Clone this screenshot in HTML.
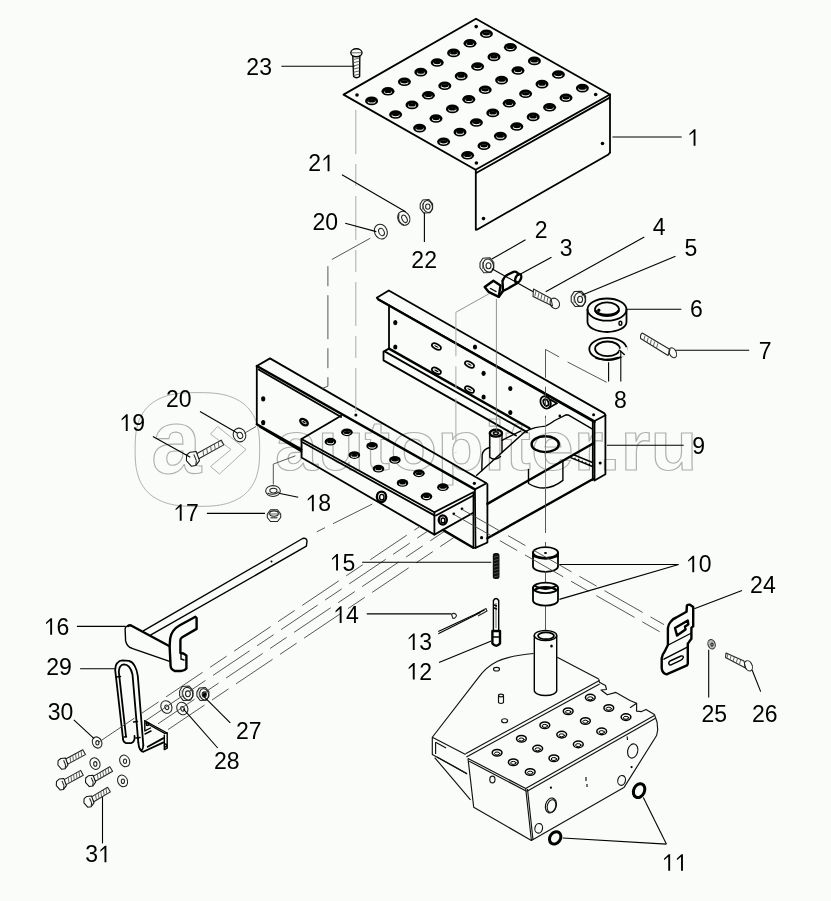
<!DOCTYPE html>
<html><head><meta charset="utf-8"><title>diagram</title><style>
*{margin:0;padding:0}
html,body{width:831px;height:901px;background:#fafcf9;overflow:hidden}
svg{display:block}
.k{fill:none;stroke:#000;stroke-width:1.8;stroke-linejoin:round;stroke-linecap:round}
.th{stroke-width:1.4}
.thk{stroke-width:2.4}
.f{fill:#000;stroke:none}
.w{fill:#fafcf9;stroke:none}
.g{fill:none;stroke:#222;stroke-width:1.05;stroke-linejoin:round}
.gl{stroke:#555;stroke-width:0.9}
.t{stroke:#000;stroke-width:1.1}
.b{fill:none;stroke:#111;stroke-width:1.15;stroke-linejoin:round}
.t2{fill:none;stroke:#777;stroke-width:0.8}
.d2{fill:none;stroke:#aaa;stroke-width:1;stroke-dasharray:44 10 22 10}
.d{fill:none;stroke:#444;stroke-width:0.9;stroke-dasharray:44 9 20 9}
.wm{fill:none;stroke:#b0b0b0;stroke-width:1}
.wmt{fill:none;stroke:#b0b0b0;stroke-width:1.1;font-family:"Liberation Sans",sans-serif;font-weight:bold}
text{font-family:"Liberation Sans",sans-serif;font-size:23px;fill:#000;text-anchor:middle}
text.wmt{text-anchor:start}
</style></head>
<body><svg width="831" height="901" viewBox="0 0 831 901">
<rect width="831" height="901" fill="#fafcf9"/>
<g class="wm">
<polygon points="259.7,449.5 259.6,455.9 259.4,460.2 259.1,463.9 258.7,467.3 258.1,470.4 257.4,473.3 256.6,476.1 255.7,478.7 254.6,481.2 253.4,483.6 252.1,485.8 250.6,487.9 249.1,489.9 247.4,491.8 245.6,493.5 243.7,495.2 241.6,496.7 239.4,498.1 237.1,499.4 234.7,500.6 232.1,501.7 229.4,502.7 226.5,503.6 223.5,504.3 220.3,505.0 216.9,505.5 213.2,505.9 209.1,506.2 204.4,506.3 197.4,506.4 190.4,506.3 185.7,506.2 181.6,505.9 177.9,505.5 174.5,505.0 171.3,504.3 168.3,503.6 165.4,502.7 162.7,501.7 160.1,500.6 157.7,499.4 155.4,498.1 153.2,496.7 151.1,495.2 149.2,493.5 147.4,491.8 145.7,489.9 144.2,487.9 142.7,485.8 141.4,483.6 140.2,481.2 139.1,478.7 138.2,476.1 137.4,473.3 136.7,470.4 136.1,467.3 135.7,463.9 135.4,460.2 135.2,455.9 135.1,449.5 135.2,443.1 135.4,438.8 135.7,435.1 136.1,431.7 136.7,428.6 137.4,425.7 138.2,422.9 139.1,420.3 140.2,417.8 141.4,415.4 142.7,413.2 144.2,411.1 145.7,409.1 147.4,407.2 149.2,405.5 151.1,403.8 153.2,402.3 155.4,400.9 157.7,399.6 160.1,398.4 162.7,397.3 165.4,396.3 168.3,395.4 171.3,394.7 174.5,394.0 177.9,393.5 181.6,393.1 185.7,392.8 190.4,392.7 197.4,392.6 204.4,392.7 209.1,392.8 213.2,393.1 216.9,393.5 220.3,394.0 223.5,394.7 226.5,395.4 229.4,396.3 232.1,397.3 234.7,398.4 237.1,399.6 239.4,400.9 241.6,402.3 243.7,403.8 245.6,405.5 247.4,407.2 249.1,409.1 250.6,411.1 252.1,413.2 253.4,415.4 254.6,417.8 255.7,420.3 256.6,422.9 257.4,425.7 258.1,428.6 258.7,431.7 259.1,435.1 259.4,438.8 259.6,443.1" class="wm"/>
<text x="151.3" y="473.4" class="wmt" style="font-size:90px">a</text>
<polygon points="217.6,426.5 246.0,449.5 219.5,474.0 210.5,466.5 231.0,449.5 210.5,434.0" class="wm"/>
<text transform="translate(275,469.8) scale(1.097,1)" x="0" y="0" class="wmt" style="font-size:70px">autopiter.ru</text>
</g>
<polygon points="343.5,94.6 476.0,18.7 610.0,94.5 475.6,169.8" class="k"/>
<line x1="476.2" y1="173.0" x2="609.8" y2="97.6" class="k"/>
<line x1="475.8" y1="170.0" x2="475.8" y2="229.5" class="k"/>
<line x1="610.0" y1="94.5" x2="610.0" y2="152.5" class="k"/>
<polyline points="610.0,152.5 608.0,154.8 477.3,229.5 475.8,229.5" class="k"/>
<circle cx="476.2" cy="26.6" r="1.8" class="f"/>
<circle cx="357.0" cy="95.0" r="1.8" class="f"/>
<circle cx="595.7" cy="94.5" r="1.8" class="f"/>
<circle cx="476.4" cy="163.0" r="1.8" class="f"/>
<circle cx="483.5" cy="218.6" r="1.8" class="f"/>
<circle cx="602.5" cy="143.5" r="1.8" class="f"/>
<ellipse cx="486.4" cy="33.7" rx="6.5" ry="4.3" class="f"/>
<ellipse cx="486.4" cy="34.5" rx="4.0" ry="1.9" class="w"/>
<ellipse cx="486.4" cy="33.8" rx="3.6" ry="1.6" class="f"/>
<ellipse cx="470.0" cy="43.3" rx="6.5" ry="4.3" class="f"/>
<ellipse cx="470.0" cy="44.1" rx="4.0" ry="1.9" class="w"/>
<ellipse cx="470.0" cy="43.4" rx="3.6" ry="1.6" class="f"/>
<ellipse cx="453.6" cy="52.9" rx="6.5" ry="4.3" class="f"/>
<ellipse cx="453.6" cy="53.7" rx="4.0" ry="1.9" class="w"/>
<ellipse cx="453.6" cy="53.0" rx="3.6" ry="1.6" class="f"/>
<ellipse cx="437.2" cy="62.5" rx="6.5" ry="4.3" class="f"/>
<ellipse cx="437.2" cy="63.3" rx="4.0" ry="1.9" class="w"/>
<ellipse cx="437.2" cy="62.6" rx="3.6" ry="1.6" class="f"/>
<ellipse cx="420.8" cy="72.1" rx="6.5" ry="4.3" class="f"/>
<ellipse cx="420.8" cy="72.9" rx="4.0" ry="1.9" class="w"/>
<ellipse cx="420.8" cy="72.2" rx="3.6" ry="1.6" class="f"/>
<ellipse cx="404.4" cy="81.7" rx="6.5" ry="4.3" class="f"/>
<ellipse cx="404.4" cy="82.5" rx="4.0" ry="1.9" class="w"/>
<ellipse cx="404.4" cy="81.8" rx="3.6" ry="1.6" class="f"/>
<ellipse cx="388.0" cy="91.3" rx="6.5" ry="4.3" class="f"/>
<ellipse cx="388.0" cy="92.1" rx="4.0" ry="1.9" class="w"/>
<ellipse cx="388.0" cy="91.4" rx="3.6" ry="1.6" class="f"/>
<ellipse cx="371.6" cy="100.9" rx="6.5" ry="4.3" class="f"/>
<ellipse cx="371.6" cy="101.7" rx="4.0" ry="1.9" class="w"/>
<ellipse cx="371.6" cy="101.0" rx="3.6" ry="1.6" class="f"/>
<ellipse cx="510.4" cy="47.3" rx="6.5" ry="4.3" class="f"/>
<ellipse cx="510.4" cy="48.1" rx="4.0" ry="1.9" class="w"/>
<ellipse cx="510.4" cy="47.4" rx="3.6" ry="1.6" class="f"/>
<ellipse cx="494.0" cy="56.9" rx="6.5" ry="4.3" class="f"/>
<ellipse cx="494.0" cy="57.7" rx="4.0" ry="1.9" class="w"/>
<ellipse cx="494.0" cy="57.0" rx="3.6" ry="1.6" class="f"/>
<ellipse cx="477.6" cy="66.5" rx="6.5" ry="4.3" class="f"/>
<ellipse cx="477.6" cy="67.3" rx="4.0" ry="1.9" class="w"/>
<ellipse cx="477.6" cy="66.6" rx="3.6" ry="1.6" class="f"/>
<ellipse cx="461.2" cy="76.1" rx="6.5" ry="4.3" class="f"/>
<ellipse cx="461.2" cy="76.9" rx="4.0" ry="1.9" class="w"/>
<ellipse cx="461.2" cy="76.2" rx="3.6" ry="1.6" class="f"/>
<ellipse cx="444.8" cy="85.7" rx="6.5" ry="4.3" class="f"/>
<ellipse cx="444.8" cy="86.5" rx="4.0" ry="1.9" class="w"/>
<ellipse cx="444.8" cy="85.8" rx="3.6" ry="1.6" class="f"/>
<ellipse cx="428.4" cy="95.3" rx="6.5" ry="4.3" class="f"/>
<ellipse cx="428.4" cy="96.1" rx="4.0" ry="1.9" class="w"/>
<ellipse cx="428.4" cy="95.4" rx="3.6" ry="1.6" class="f"/>
<ellipse cx="412.0" cy="104.9" rx="6.5" ry="4.3" class="f"/>
<ellipse cx="412.0" cy="105.7" rx="4.0" ry="1.9" class="w"/>
<ellipse cx="412.0" cy="105.0" rx="3.6" ry="1.6" class="f"/>
<ellipse cx="395.6" cy="114.5" rx="6.5" ry="4.3" class="f"/>
<ellipse cx="395.6" cy="115.3" rx="4.0" ry="1.9" class="w"/>
<ellipse cx="395.6" cy="114.6" rx="3.6" ry="1.6" class="f"/>
<ellipse cx="534.4" cy="60.9" rx="6.5" ry="4.3" class="f"/>
<ellipse cx="534.4" cy="61.7" rx="4.0" ry="1.9" class="w"/>
<ellipse cx="534.4" cy="61.0" rx="3.6" ry="1.6" class="f"/>
<ellipse cx="518.0" cy="70.5" rx="6.5" ry="4.3" class="f"/>
<ellipse cx="518.0" cy="71.3" rx="4.0" ry="1.9" class="w"/>
<ellipse cx="518.0" cy="70.6" rx="3.6" ry="1.6" class="f"/>
<ellipse cx="501.6" cy="80.1" rx="6.5" ry="4.3" class="f"/>
<ellipse cx="501.6" cy="80.9" rx="4.0" ry="1.9" class="w"/>
<ellipse cx="501.6" cy="80.2" rx="3.6" ry="1.6" class="f"/>
<ellipse cx="485.2" cy="89.7" rx="6.5" ry="4.3" class="f"/>
<ellipse cx="485.2" cy="90.5" rx="4.0" ry="1.9" class="w"/>
<ellipse cx="485.2" cy="89.8" rx="3.6" ry="1.6" class="f"/>
<ellipse cx="468.8" cy="99.3" rx="6.5" ry="4.3" class="f"/>
<ellipse cx="468.8" cy="100.1" rx="4.0" ry="1.9" class="w"/>
<ellipse cx="468.8" cy="99.4" rx="3.6" ry="1.6" class="f"/>
<ellipse cx="452.4" cy="108.9" rx="6.5" ry="4.3" class="f"/>
<ellipse cx="452.4" cy="109.7" rx="4.0" ry="1.9" class="w"/>
<ellipse cx="452.4" cy="109.0" rx="3.6" ry="1.6" class="f"/>
<ellipse cx="436.0" cy="118.5" rx="6.5" ry="4.3" class="f"/>
<ellipse cx="436.0" cy="119.3" rx="4.0" ry="1.9" class="w"/>
<ellipse cx="436.0" cy="118.6" rx="3.6" ry="1.6" class="f"/>
<ellipse cx="419.6" cy="128.1" rx="6.5" ry="4.3" class="f"/>
<ellipse cx="419.6" cy="128.9" rx="4.0" ry="1.9" class="w"/>
<ellipse cx="419.6" cy="128.2" rx="3.6" ry="1.6" class="f"/>
<ellipse cx="558.4" cy="74.5" rx="6.5" ry="4.3" class="f"/>
<ellipse cx="558.4" cy="75.3" rx="4.0" ry="1.9" class="w"/>
<ellipse cx="558.4" cy="74.6" rx="3.6" ry="1.6" class="f"/>
<ellipse cx="542.0" cy="84.1" rx="6.5" ry="4.3" class="f"/>
<ellipse cx="542.0" cy="84.9" rx="4.0" ry="1.9" class="w"/>
<ellipse cx="542.0" cy="84.2" rx="3.6" ry="1.6" class="f"/>
<ellipse cx="525.6" cy="93.7" rx="6.5" ry="4.3" class="f"/>
<ellipse cx="525.6" cy="94.5" rx="4.0" ry="1.9" class="w"/>
<ellipse cx="525.6" cy="93.8" rx="3.6" ry="1.6" class="f"/>
<ellipse cx="509.2" cy="103.3" rx="6.5" ry="4.3" class="f"/>
<ellipse cx="509.2" cy="104.1" rx="4.0" ry="1.9" class="w"/>
<ellipse cx="509.2" cy="103.4" rx="3.6" ry="1.6" class="f"/>
<ellipse cx="492.8" cy="112.9" rx="6.5" ry="4.3" class="f"/>
<ellipse cx="492.8" cy="113.7" rx="4.0" ry="1.9" class="w"/>
<ellipse cx="492.8" cy="113.0" rx="3.6" ry="1.6" class="f"/>
<ellipse cx="476.4" cy="122.5" rx="6.5" ry="4.3" class="f"/>
<ellipse cx="476.4" cy="123.3" rx="4.0" ry="1.9" class="w"/>
<ellipse cx="476.4" cy="122.6" rx="3.6" ry="1.6" class="f"/>
<ellipse cx="460.0" cy="132.1" rx="6.5" ry="4.3" class="f"/>
<ellipse cx="460.0" cy="132.9" rx="4.0" ry="1.9" class="w"/>
<ellipse cx="460.0" cy="132.2" rx="3.6" ry="1.6" class="f"/>
<ellipse cx="443.6" cy="141.7" rx="6.5" ry="4.3" class="f"/>
<ellipse cx="443.6" cy="142.5" rx="4.0" ry="1.9" class="w"/>
<ellipse cx="443.6" cy="141.8" rx="3.6" ry="1.6" class="f"/>
<ellipse cx="582.4" cy="88.1" rx="6.5" ry="4.3" class="f"/>
<ellipse cx="582.4" cy="88.9" rx="4.0" ry="1.9" class="w"/>
<ellipse cx="582.4" cy="88.2" rx="3.6" ry="1.6" class="f"/>
<ellipse cx="566.0" cy="97.7" rx="6.5" ry="4.3" class="f"/>
<ellipse cx="566.0" cy="98.5" rx="4.0" ry="1.9" class="w"/>
<ellipse cx="566.0" cy="97.8" rx="3.6" ry="1.6" class="f"/>
<ellipse cx="549.6" cy="107.3" rx="6.5" ry="4.3" class="f"/>
<ellipse cx="549.6" cy="108.1" rx="4.0" ry="1.9" class="w"/>
<ellipse cx="549.6" cy="107.4" rx="3.6" ry="1.6" class="f"/>
<ellipse cx="533.2" cy="116.9" rx="6.5" ry="4.3" class="f"/>
<ellipse cx="533.2" cy="117.7" rx="4.0" ry="1.9" class="w"/>
<ellipse cx="533.2" cy="117.0" rx="3.6" ry="1.6" class="f"/>
<ellipse cx="516.8" cy="126.5" rx="6.5" ry="4.3" class="f"/>
<ellipse cx="516.8" cy="127.3" rx="4.0" ry="1.9" class="w"/>
<ellipse cx="516.8" cy="126.6" rx="3.6" ry="1.6" class="f"/>
<ellipse cx="500.4" cy="136.1" rx="6.5" ry="4.3" class="f"/>
<ellipse cx="500.4" cy="136.9" rx="4.0" ry="1.9" class="w"/>
<ellipse cx="500.4" cy="136.2" rx="3.6" ry="1.6" class="f"/>
<ellipse cx="484.0" cy="145.7" rx="6.5" ry="4.3" class="f"/>
<ellipse cx="484.0" cy="146.5" rx="4.0" ry="1.9" class="w"/>
<ellipse cx="484.0" cy="145.8" rx="3.6" ry="1.6" class="f"/>
<ellipse cx="467.6" cy="155.3" rx="6.5" ry="4.3" class="f"/>
<ellipse cx="467.6" cy="156.1" rx="4.0" ry="1.9" class="w"/>
<ellipse cx="467.6" cy="155.4" rx="3.6" ry="1.6" class="f"/>
<path d="M352.8,56 L353.6,76.5 Q356.5,79 359.6,76.5 L359.8,56" class="k th"/>
<line x1="353.5" y1="59.5" x2="359.5" y2="58.0" class="gl"/>
<line x1="353.5" y1="62.7" x2="359.5" y2="61.2" class="gl"/>
<line x1="353.5" y1="65.9" x2="359.5" y2="64.4" class="gl"/>
<line x1="353.5" y1="69.1" x2="359.5" y2="67.6" class="gl"/>
<line x1="353.5" y1="72.3" x2="359.5" y2="70.8" class="gl"/>
<line x1="353.5" y1="75.5" x2="359.5" y2="74.0" class="gl"/>
<ellipse cx="356.4" cy="52.8" rx="5.6" ry="4.0" class="k th"/>
<line x1="351.0" y1="52.8" x2="361.8" y2="52.8" class="gl"/>
<polyline points="376.8,297.8 388.8,290.5 604.5,413.4 605.4,415.2 594.5,421.0 378.5,299.5 376.8,297.8" class="k"/>
<line x1="378.5" y1="299.5" x2="594.5" y2="422.0" class="k thk"/>
<polyline points="594.5,421.0 594.5,480.5 605.4,474.2 605.4,415.2" class="k"/>
<line x1="592.8" y1="422.0" x2="592.8" y2="480.0" class="k"/>
<circle cx="593.6" cy="414.8" r="1.5" class="f"/>
<circle cx="600.2" cy="463.0" r="1.5" class="f"/>
<line x1="389.0" y1="305.5" x2="389.0" y2="349.0" class="k"/>
<polyline points="389.0,348.6 383.5,351.6 383.5,360.4 516.0,435.5" class="k"/>
<line x1="389.0" y1="348.6" x2="529.5" y2="428.3" class="k thk"/>
<line x1="385.0" y1="351.6" x2="527.0" y2="432.1" class="k"/>
<ellipse cx="395.3" cy="322.6" rx="2.1" ry="2.6" class="f"/>
<ellipse cx="395.3" cy="347.0" rx="2.1" ry="2.6" class="f"/>
<ellipse cx="475.0" cy="347.0" rx="2.1" ry="2.6" class="f"/>
<ellipse cx="483.6" cy="373.3" rx="2.1" ry="2.6" class="f"/>
<ellipse cx="483.6" cy="397.0" rx="2.1" ry="2.6" class="f"/>
<ellipse cx="510.3" cy="388.5" rx="2.1" ry="2.6" class="f"/>
<ellipse cx="510.3" cy="412.5" rx="2.1" ry="2.6" class="f"/>
<ellipse cx="436.4" cy="346.5" rx="4.9" ry="2.5" class="k" transform="rotate(28 436.4 346.5)"/>
<ellipse cx="436.4" cy="346.5" rx="2.4" ry="0.7" class="f" transform="rotate(28 436.4 346.5)"/>
<ellipse cx="469.5" cy="364.5" rx="4.9" ry="2.5" class="k" transform="rotate(28 469.5 364.5)"/>
<ellipse cx="469.5" cy="364.5" rx="2.4" ry="0.7" class="f" transform="rotate(28 469.5 364.5)"/>
<ellipse cx="436.4" cy="370.8" rx="4.9" ry="2.5" class="k" transform="rotate(28 436.4 370.8)"/>
<ellipse cx="436.4" cy="370.8" rx="2.4" ry="0.7" class="f" transform="rotate(28 436.4 370.8)"/>
<ellipse cx="469.5" cy="389.5" rx="4.9" ry="2.5" class="k" transform="rotate(28 469.5 389.5)"/>
<ellipse cx="469.5" cy="389.5" rx="2.4" ry="0.7" class="f" transform="rotate(28 469.5 389.5)"/>
<ellipse cx="545.6" cy="402.4" rx="4.9" ry="6.4" class="k" transform="rotate(-25 545.6 402.4)"/>
<ellipse cx="546.0" cy="402.6" rx="2.4" ry="3.5" class="k" transform="rotate(-25 546.0 402.6)"/>
<polyline points="550.4,399.6 557.0,403.3 549.5,407.5" class="k"/>
<polyline points="256.8,424.3 256.8,366.0 270.0,358.4 486.5,483.2 474.9,489.4" class="k"/>
<line x1="256.8" y1="366.0" x2="474.9" y2="489.4" class="k thk"/>
<line x1="258.5" y1="369.5" x2="341.1" y2="417.0" class="k"/>
<line x1="256.8" y1="424.3" x2="301.5" y2="449.6" class="k thk"/>
<line x1="260.0" y1="427.0" x2="301.5" y2="451.5" class="k"/>
<ellipse cx="263.2" cy="398.9" rx="2.1" ry="2.7" class="f"/>
<ellipse cx="263.2" cy="422.6" rx="2.1" ry="2.7" class="f"/>
<ellipse cx="304.0" cy="422.1" rx="4.2" ry="2.5" class="k thk" transform="rotate(35 304.0 422.1)"/>
<ellipse cx="304.0" cy="422.1" rx="2.0" ry="0.8" class="f" transform="rotate(35 304.0 422.1)"/>
<circle cx="355.9" cy="414.9" r="1.5" class="f"/>
<circle cx="474.4" cy="483.3" r="1.6" class="f"/>
<polyline points="474.9,489.4 475.5,547.9 487.4,542.5 487.4,484.2" class="k"/>
<line x1="473.3" y1="493.3" x2="473.3" y2="547.7" class="k th"/>
<polyline points="473.3,547.7 475.5,547.9" class="k"/>
<circle cx="481.6" cy="537.7" r="1.6" class="f"/>
<polyline points="301.5,439.0 341.1,415.7" class="k"/>
<polyline points="301.5,439.0 301.5,457.5 434.4,534.6 434.4,512.2 301.5,439.0" class="k"/>
<line x1="302.5" y1="442.3" x2="434.4" y2="515.4" class="k"/>
<polyline points="434.4,512.2 473.3,492.2" class="k"/>
<line x1="436.0" y1="515.5" x2="473.3" y2="495.5" class="k"/>
<line x1="434.4" y1="534.6" x2="473.3" y2="512.7" class="k"/>
<line x1="442.8" y1="529.9" x2="473.3" y2="547.7" class="k thk"/>
<ellipse cx="346.9" cy="432.3" rx="5.8" ry="3.9" class="f"/>
<ellipse cx="346.9" cy="433.1" rx="3.6" ry="1.8" class="w"/>
<ellipse cx="346.9" cy="432.4" rx="3.2" ry="1.5" class="f"/>
<ellipse cx="330.4" cy="441.7" rx="5.8" ry="3.9" class="f"/>
<ellipse cx="330.4" cy="442.5" rx="3.6" ry="1.8" class="w"/>
<ellipse cx="330.4" cy="441.8" rx="3.2" ry="1.5" class="f"/>
<ellipse cx="372.1" cy="446.0" rx="5.8" ry="3.9" class="f"/>
<ellipse cx="372.1" cy="446.8" rx="3.6" ry="1.8" class="w"/>
<ellipse cx="372.1" cy="446.1" rx="3.2" ry="1.5" class="f"/>
<ellipse cx="354.4" cy="455.1" rx="5.8" ry="3.9" class="f"/>
<ellipse cx="354.4" cy="455.9" rx="3.6" ry="1.8" class="w"/>
<ellipse cx="354.4" cy="455.2" rx="3.2" ry="1.5" class="f"/>
<ellipse cx="394.9" cy="459.9" rx="5.8" ry="3.9" class="f"/>
<ellipse cx="394.9" cy="460.7" rx="3.6" ry="1.8" class="w"/>
<ellipse cx="394.9" cy="460.0" rx="3.2" ry="1.5" class="f"/>
<ellipse cx="378.5" cy="468.7" rx="5.8" ry="3.9" class="f"/>
<ellipse cx="378.5" cy="469.5" rx="3.6" ry="1.8" class="w"/>
<ellipse cx="378.5" cy="468.8" rx="3.2" ry="1.5" class="f"/>
<ellipse cx="418.9" cy="473.3" rx="5.8" ry="3.9" class="f"/>
<ellipse cx="418.9" cy="474.1" rx="3.6" ry="1.8" class="w"/>
<ellipse cx="418.9" cy="473.4" rx="3.2" ry="1.5" class="f"/>
<ellipse cx="402.5" cy="482.9" rx="5.8" ry="3.9" class="f"/>
<ellipse cx="402.5" cy="483.7" rx="3.6" ry="1.8" class="w"/>
<ellipse cx="402.5" cy="483.0" rx="3.2" ry="1.5" class="f"/>
<ellipse cx="442.9" cy="487.2" rx="5.8" ry="3.9" class="f"/>
<ellipse cx="442.9" cy="488.0" rx="3.6" ry="1.8" class="w"/>
<ellipse cx="442.9" cy="487.3" rx="3.2" ry="1.5" class="f"/>
<ellipse cx="426.5" cy="496.5" rx="5.8" ry="3.9" class="f"/>
<ellipse cx="426.5" cy="497.3" rx="3.6" ry="1.8" class="w"/>
<ellipse cx="426.5" cy="496.6" rx="3.2" ry="1.5" class="f"/>
<ellipse cx="381.5" cy="496.8" rx="4.6" ry="5.2" class="k thk"/>
<ellipse cx="381.8" cy="497.2" rx="2.2" ry="2.8" class="k th"/>
<ellipse cx="442.8" cy="520.0" rx="4.0" ry="4.6" class="k thk"/>
<ellipse cx="443.0" cy="520.4" rx="1.9" ry="2.4" class="k th"/>
<circle cx="453.8" cy="513.8" r="1.4" class="f"/>
<circle cx="462.0" cy="508.8" r="1.4" class="f"/>
<line x1="487.4" y1="503.9" x2="593.5" y2="443.2" class="k thk"/>
<line x1="487.4" y1="538.3" x2="593.5" y2="478.8" class="k thk"/>
<line x1="570.0" y1="457.3" x2="592.5" y2="466.5" class="k th"/>
<line x1="573.0" y1="454.5" x2="592.5" y2="462.5" class="k th"/>
<circle cx="575.0" cy="458.3" r="0.7" class="f"/>
<circle cx="578.6" cy="459.8" r="0.7" class="f"/>
<circle cx="582.2" cy="461.3" r="0.7" class="f"/>
<circle cx="585.8" cy="462.8" r="0.7" class="f"/>
<circle cx="589.4" cy="464.3" r="0.7" class="f"/>
<path d="M525,431.7 Q530,429 535.2,427.6 Q541,426.6 545.5,426.1 Q550,424 554.7,420.5 L565.9,414.8 L569,415.3 L592.5,429.2" class="k th"/>
<circle cx="559.8" cy="415.9" r="1.3" class="f"/>
<line x1="476.7" y1="475.3" x2="525.0" y2="431.7" class="k th"/>
<line x1="502.0" y1="440.3" x2="520.5" y2="431.1" class="k th"/>
<path d="M481.8,470.7 L482.2,454.6 Q483,449.5 489.6,447.5" class="k th"/>
<ellipse cx="545.2" cy="444.2" rx="13.6" ry="7.9" class="k thk"/>
<path d="M528.5,469.4 L528.5,483.5 Q545.7,494 562.9,480.4 L562.9,461.6" class="k th"/>
<path d="M489.8,433.2 L489.8,457.2 Q495,461.5 500.5,456.5 M502,434.4 L502,452" class="k th"/>
<ellipse cx="495.9" cy="433.2" rx="6.1" ry="3.4" class="k thk"/>
<ellipse cx="495.9" cy="433.2" rx="2.4" ry="1.4" class="k th"/>
<ellipse cx="403.8" cy="218.3" rx="5.9" ry="7.2" class="g" transform="rotate(-25 403.8 218.3)"/>
<ellipse cx="404.5" cy="218.8" rx="2.4" ry="4.0" class="g" transform="rotate(-25 404.5 218.8)"/>
<path d="M399,214 Q397,222 404,225" class="g"/>
<ellipse cx="380.8" cy="231.6" rx="6.3" ry="7.6" class="g" transform="rotate(-25 380.8 231.6)"/>
<ellipse cx="381.5" cy="232.0" rx="2.6" ry="3.8" class="g" transform="rotate(-25 381.5 232.0)"/>
<polygon points="420.2,204.0 422.7,199.9 429.0,199.5 432.6,203.8 432.6,208.8 430.0,212.7 423.6,212.9 420.2,208.4" class="g"/>
<ellipse cx="427.7" cy="206.5" rx="4.6" ry="6.0" class="g" transform="rotate(-15 427.7 206.5)"/>
<ellipse cx="427.8" cy="206.6" rx="2.2" ry="2.7" class="g"/>
<line x1="422.5" y1="203.6" x2="422.7" y2="209.6" class="gl"/>
<polygon points="480.0,262.7 482.8,258.2 489.8,257.7 493.8,262.5 493.8,268.1 491.0,272.4 483.8,272.7 480.0,267.7" class="g"/>
<ellipse cx="488.3" cy="265.6" rx="5.1" ry="6.6" class="g" transform="rotate(-15 488.3 265.6)"/>
<ellipse cx="488.5" cy="265.7" rx="2.5" ry="3.0" class="g"/>
<line x1="482.5" y1="262.3" x2="482.8" y2="269.0" class="gl"/>
<path d="M484.7,287 L493.4,280.8 L500.5,285.5 L498.8,296.8 L488.5,291.8 Z" class="k thk"/>
<path d="M490.5,288.5 L496,291.5" class="k th"/>
<path d="M498.8,296.8 L503,291 L502.5,281 Q504,276.5 508,274.5 L513.5,271.8 Q517,271 518.5,274.5" class="k thk"/>
<ellipse cx="518.2" cy="278.4" rx="2.6" ry="4.6" class="k thk" transform="rotate(25 518.2 278.4)"/>
<path d="M503,291 L508,288.5 L517.5,283" class="k thk"/>
<ellipse cx="516.2" cy="282.0" rx="1.5" ry="1.5" class="f"/>
<line x1="491.8" y1="268.7" x2="533.2" y2="291.8" class="t"/>
<path d="M533.5,289 L551,298.5 L552.5,306 L533,296.5 Z" class="g"/>
<line x1="536.0" y1="291.0" x2="534.8" y2="296.5" class="gl"/>
<line x1="539.0" y1="292.6" x2="537.8" y2="298.1" class="gl"/>
<line x1="542.0" y1="294.2" x2="540.8" y2="299.7" class="gl"/>
<line x1="545.0" y1="295.8" x2="543.8" y2="301.3" class="gl"/>
<line x1="548.0" y1="297.4" x2="546.8" y2="302.9" class="gl"/>
<ellipse cx="554.8" cy="303.4" rx="4.5" ry="5.5" class="g" transform="rotate(-30 554.8 303.4)"/>
<polygon points="571.2,296.4 574.2,291.6 581.4,291.2 585.6,296.2 585.6,301.8 582.6,306.3 575.2,306.6 571.2,301.4" class="g"/>
<ellipse cx="579.9" cy="299.3" rx="5.3" ry="6.9" class="g" transform="rotate(-15 579.9 299.3)"/>
<ellipse cx="580.1" cy="299.4" rx="2.5" ry="3.1" class="g"/>
<line x1="573.9" y1="296.0" x2="574.2" y2="302.8" class="gl"/>
<ellipse cx="607.0" cy="309.6" rx="19.5" ry="11.1" class="k"/>
<path d="M587.5,309.6 L587.5,322 A19.5,10 0 0 0 626.5,322 L626.5,309.6" class="k"/>
<ellipse cx="607.0" cy="309.3" rx="12.0" ry="6.9" class="k"/>
<path d="M595.5,311 A12,5.5 0 0 0 618.5,311" class="k thk"/>
<ellipse cx="598.8" cy="310.2" rx="1.6" ry="1.8" class="f"/>
<ellipse cx="620.4" cy="323.3" rx="1.4" ry="2.0" class="k th"/>
<ellipse cx="608.0" cy="349.0" rx="18.7" ry="11.1" class="k"/>
<ellipse cx="607.5" cy="348.8" rx="12.4" ry="7.3" class="k"/>
<path d="M596,358.3 Q607,361 618.2,357.4" class="k th"/>
<polygon points="618.5,349 627.5,347 628,356 621,357" fill="#fafcf9"/>
<line x1="619.6" y1="350.3" x2="624.3" y2="354.5" class="k th"/>
<path d="M642.3,333 L670,349.5 L668,355.5 L640.6,338.5 Q640,334.5 642.3,333 Z" class="g"/>
<line x1="645.0" y1="335.8" x2="643.8" y2="340.5" class="gl"/>
<line x1="648.2" y1="337.7" x2="647.0" y2="342.4" class="gl"/>
<line x1="651.4" y1="339.6" x2="650.2" y2="344.3" class="gl"/>
<line x1="654.6" y1="341.5" x2="653.4" y2="346.2" class="gl"/>
<line x1="657.8" y1="343.4" x2="656.6" y2="348.1" class="gl"/>
<ellipse cx="672.8" cy="352.8" rx="3.4" ry="5.2" class="g" transform="rotate(-25 672.8 352.8)"/>
<rect x="492.8" y="553" width="6.7" height="26" rx="2.5" fill="#111"/>
<line x1="494.0" y1="557.2" x2="498.5" y2="556.0" class="gl"/>
<line x1="494.0" y1="560.5" x2="498.5" y2="559.3" class="gl"/>
<line x1="494.0" y1="563.8" x2="498.5" y2="562.6" class="gl"/>
<line x1="494.0" y1="567.1" x2="498.5" y2="565.9" class="gl"/>
<line x1="494.0" y1="570.4" x2="498.5" y2="569.2" class="gl"/>
<line x1="494.0" y1="573.7" x2="498.5" y2="572.5" class="gl"/>
<line x1="494.0" y1="577.0" x2="498.5" y2="575.8" class="gl"/>
<path d="M451.5,614.5 Q454,612 456.5,615 Q456,618.5 453,618.5 Z" class="g"/>
<path d="M476.5,613.8 L486,608.5 L487,611 L478,616" class="g"/>
<path d="M493.4,600.5 Q496,596.5 498.7,600.5 L498.7,631 L493.4,631 Z" class="k th"/>
<path d="M492.4,631 L500,631 L500,643.5 Q496.2,648 492.4,643.5 Z" class="k thk"/>
<line x1="492.4" y1="637.0" x2="500.0" y2="637.0" class="k th"/>
<line x1="496.0" y1="603.0" x2="496.0" y2="628.0" class="gl"/>
<path d="M494.5,605 L496.5,606 M494.5,608 L496.5,609" class="k th"/>
<ellipse cx="545.5" cy="552.5" rx="12.5" ry="5.3" class="k"/>
<path d="M533,552.5 L533,566.5 A12.5,5.3 0 0 0 558,566.5 L558,552.5" class="k"/>
<ellipse cx="545.5" cy="587.9" rx="12.5" ry="5.3" class="k"/>
<path d="M533,587.9 L533,600.4 A12.5,5.3 0 0 0 558,600.4 L558,587.9" class="k"/>
<path d="M533.5,556 Q545.5,561 557.5,556" class="k thk"/>
<ellipse cx="545.5" cy="553.0" rx="1.5" ry="1.1" class="f"/>
<path d="M535,590 A11,4 0 0 1 556,590" class="k thk"/>
<path d="M535,586 Q545.5,592 556,586" class="k"/>
<ellipse cx="545.5" cy="635.5" rx="11.2" ry="5.0" class="k th"/>
<ellipse cx="546.0" cy="635.8" rx="8.0" ry="3.4" class="k"/>
<path d="M534.3,635.5 L534.3,690.5 A11.2,5 0 0 0 556.7,690.5 L556.7,635.5" class="k th"/>
<ellipse cx="551.5" cy="646.0" rx="1.3" ry="1.6" class="f"/>
<path d="M432.5,737 L478.6,677.4 Q486,667 497,661.5 Q510,655.5 533.5,653.5" class="b"/>
<path d="M557.2,657.2 L598.7,679.1" class="b"/>
<polyline points="598.7,679.1 599.4,682.2 605.5,685.5 606.5,689.5 601.0,690.0 607.3,694.8 615.9,692.4 630.0,700.5 636.6,703.3 636.6,711.1 641.6,711.6 646.0,709.4 654.4,714.4 657.1,722.2 657.7,730.0 656.6,735.5 623.9,787.6" class="b"/>
<line x1="630.0" y1="707.8" x2="636.6" y2="703.3" class="b"/>
<polyline points="468.0,758.4 525.7,788.5 654.4,715.5" class="b"/>
<line x1="469.2" y1="761.2" x2="526.5" y2="791.2" class="b"/>
<line x1="527.0" y1="791.3" x2="655.5" y2="718.2" class="b"/>
<line x1="465.6" y1="753.7" x2="599.4" y2="680.6" class="b"/>
<line x1="466.4" y1="757.0" x2="599.6" y2="684.0" class="b"/>
<polyline points="525.7,788.5 531.4,840.5 623.9,787.6" class="b"/>
<line x1="527.5" y1="789.0" x2="533.0" y2="840.0" class="b"/>
<polyline points="468.0,758.4 473.7,807.2 531.4,840.5" class="b"/>
<polyline points="465.6,754.4 432.3,737.3 432.3,754.4 467.2,773.9" class="b"/>
<line x1="435.6" y1="742.2" x2="446.1" y2="747.9" class="b"/>
<line x1="435.6" y1="742.2" x2="435.6" y2="754.0" class="b"/>
<line x1="434.7" y1="757.6" x2="470.5" y2="799.9" class="b"/>
<line x1="437.0" y1="757.0" x2="466.8" y2="773.5" class="b"/>
<ellipse cx="590.3" cy="697.6" rx="4.9" ry="3.3" class="k" style="stroke-width:1.5"/>
<ellipse cx="590.3" cy="698.3" rx="2.7" ry="1.5" class="k" style="stroke-width:1"/>
<ellipse cx="568.2" cy="711.2" rx="4.9" ry="3.3" class="k" style="stroke-width:1.5"/>
<ellipse cx="568.2" cy="711.9" rx="2.7" ry="1.5" class="k" style="stroke-width:1"/>
<ellipse cx="544.8" cy="725.2" rx="4.9" ry="3.3" class="k" style="stroke-width:1.5"/>
<ellipse cx="544.8" cy="725.9" rx="2.7" ry="1.5" class="k" style="stroke-width:1"/>
<ellipse cx="521.4" cy="738.8" rx="4.9" ry="3.3" class="k" style="stroke-width:1.5"/>
<ellipse cx="521.4" cy="739.5" rx="2.7" ry="1.5" class="k" style="stroke-width:1"/>
<ellipse cx="497.1" cy="752.8" rx="4.9" ry="3.3" class="k" style="stroke-width:1.5"/>
<ellipse cx="497.1" cy="753.5" rx="2.7" ry="1.5" class="k" style="stroke-width:1"/>
<ellipse cx="608.8" cy="708.0" rx="4.9" ry="3.3" class="k" style="stroke-width:1.5"/>
<ellipse cx="608.8" cy="708.7" rx="2.7" ry="1.5" class="k" style="stroke-width:1"/>
<ellipse cx="585.4" cy="721.0" rx="4.9" ry="3.3" class="k" style="stroke-width:1.5"/>
<ellipse cx="585.4" cy="721.7" rx="2.7" ry="1.5" class="k" style="stroke-width:1"/>
<ellipse cx="561.7" cy="734.6" rx="4.9" ry="3.3" class="k" style="stroke-width:1.5"/>
<ellipse cx="561.7" cy="735.3" rx="2.7" ry="1.5" class="k" style="stroke-width:1"/>
<ellipse cx="537.7" cy="748.6" rx="4.9" ry="3.3" class="k" style="stroke-width:1.5"/>
<ellipse cx="537.7" cy="749.3" rx="2.7" ry="1.5" class="k" style="stroke-width:1"/>
<ellipse cx="513.3" cy="762.2" rx="4.9" ry="3.3" class="k" style="stroke-width:1.5"/>
<ellipse cx="513.3" cy="762.9" rx="2.7" ry="1.5" class="k" style="stroke-width:1"/>
<ellipse cx="626.0" cy="717.1" rx="4.9" ry="3.3" class="k" style="stroke-width:1.5"/>
<ellipse cx="626.0" cy="717.8" rx="2.7" ry="1.5" class="k" style="stroke-width:1"/>
<ellipse cx="601.7" cy="731.4" rx="4.9" ry="3.3" class="k" style="stroke-width:1.5"/>
<ellipse cx="601.7" cy="732.1" rx="2.7" ry="1.5" class="k" style="stroke-width:1"/>
<ellipse cx="578.3" cy="744.4" rx="4.9" ry="3.3" class="k" style="stroke-width:1.5"/>
<ellipse cx="578.3" cy="745.1" rx="2.7" ry="1.5" class="k" style="stroke-width:1"/>
<ellipse cx="553.9" cy="758.3" rx="4.9" ry="3.3" class="k" style="stroke-width:1.5"/>
<ellipse cx="553.9" cy="759.0" rx="2.7" ry="1.5" class="k" style="stroke-width:1"/>
<ellipse cx="530.2" cy="772.0" rx="4.9" ry="3.3" class="k" style="stroke-width:1.5"/>
<ellipse cx="530.2" cy="772.7" rx="2.7" ry="1.5" class="k" style="stroke-width:1"/>
<ellipse cx="550.9" cy="805.5" rx="5.4" ry="7.6" class="b" transform="rotate(15 550.9 805.5)"/>
<ellipse cx="551.5" cy="806.0" rx="4.2" ry="6.4" class="b" transform="rotate(15 551.5 806.0)"/>
<ellipse cx="632.7" cy="751.0" rx="5.0" ry="7.2" class="b" transform="rotate(15 632.7 751.0)"/>
<ellipse cx="538.7" cy="828.3" rx="3.8" ry="4.8" class="b" transform="rotate(15 538.7 828.3)"/>
<ellipse cx="621.6" cy="780.4" rx="3.8" ry="5.0" class="b" transform="rotate(15 621.6 780.4)"/>
<path d="M586,777 L586,781 M587,784 L587,787" class="b"/>
<ellipse cx="492.4" cy="779.5" rx="2.6" ry="3.4" class="b"/>
<circle cx="550.9" cy="787.7" r="1.1" class="f"/>
<circle cx="631.6" cy="767.1" r="1.1" class="f"/>
<path d="M627.2,736.5 L627.5,740" class="b"/>
<path d="M498.5,695.5 L498.5,702.5 Q501,704.5 503.5,702.5 L503.5,695.5" class="b"/>
<ellipse cx="501.0" cy="695.5" rx="2.5" ry="1.4" class="b"/>
<ellipse cx="504.6" cy="720.7" rx="3.0" ry="2.0" class="b"/>
<ellipse cx="496.5" cy="669.2" rx="3.0" ry="1.8" class="b"/>
<ellipse cx="639.1" cy="790.6" rx="5.4" ry="7.2" class="k" transform="rotate(25 639.1 790.6)"/>
<ellipse cx="639.1" cy="790.6" rx="5.4" ry="7.2" transform="rotate(25 639.1 790.6)" style="fill:none;stroke:#000;stroke-width:3"/>
<ellipse cx="555.2" cy="837.9" rx="5.2" ry="6.6" transform="rotate(35 555.2 837.9)" style="fill:none;stroke:#000;stroke-width:3"/>
<path d="M686.9,605.5 Q688,604.3 690,604.7 L693.2,606.9 L693.2,626.4 L691.4,627.8 L691.4,638.8 L688.7,642.4 L687.8,643.5 L687.8,663.7 L687,665.4 L666.5,674.3 Q662,673 661.7,668.1 L661.7,658.3 Q662.5,654 664.8,651.2 L667.9,645 L667.9,628.2 Q668.5,624 670.5,622 Q673,618.5 676.3,617.5 L686.5,611.8 Z" class="k thk"/>
<line x1="668.3" y1="645.0" x2="690.5" y2="633.5" class="k th"/>
<line x1="663.9" y1="659.2" x2="687.8" y2="646.8" class="k th"/>
<path d="M675,628 L687.8,620.5 L688.3,624.5 L685,626.5 L685.5,629.5 L677,635.5 Z" class="k thk"/>
<path d="M669.2,664.5 Q668,662.5 670,661 L681,656 Q683.5,655.5 683.3,657.5 Q682.5,659.5 680.5,660.3 L671,664.8 Q669.8,665.5 669.2,664.5 Z" class="k th"/>
<line x1="686.9" y1="605.5" x2="686.5" y2="611.8" class="k th"/>
<ellipse cx="711.6" cy="644.3" rx="3.6" ry="4.8" transform="rotate(-20 711.6 644.3)" style="fill:#bbb;stroke:#333;stroke-width:1"/>
<ellipse cx="712.0" cy="644.5" rx="1.1" ry="1.6" class="g"/>
<path d="M726,653 L744,661 L745.5,668 L725.5,657.5 Z" class="g"/>
<line x1="728.0" y1="654.0" x2="726.7" y2="658.5" class="gl"/>
<line x1="731.2" y1="655.4" x2="729.9" y2="659.9" class="gl"/>
<line x1="734.4" y1="656.8" x2="733.1" y2="661.3" class="gl"/>
<line x1="737.6" y1="658.2" x2="736.3" y2="662.7" class="gl"/>
<line x1="740.8" y1="659.6" x2="739.5" y2="664.1" class="gl"/>
<ellipse cx="748.5" cy="665.8" rx="3.6" ry="5.4" class="g" transform="rotate(-25 748.5 665.8)"/>
<path d="M143.7,630.7 L302.6,538.5 Q306.5,537.5 307,541 L306.4,546.2 L150.9,634.9" class="k th"/>
<circle cx="271.5" cy="561.5" r="1" class="f"/>
<path d="M128,625.9 Q124.5,626.5 125.2,631 L125.6,640.9 Q127,647 132,648.3 L169.6,661.4" class="k th"/>
<path d="M128,625.9 Q130,624.5 132,626 L169.6,646.3" class="k thk"/>
<path d="M169.6,646.3 L170.2,638.5 Q171.5,630 179.8,625.3 L195.4,616.8 L196.6,618 L196.6,628.9 L182.2,637.3 Q180.4,638.5 180.4,640 L180.4,653 L183.4,653.5 L186.4,655.4 L186.4,668.6 Q184,671.5 180,671 L175,671 Q170.8,669.5 170.6,666 L169.6,646.3" class="k thk"/>
<path d="M181,654 L181,659 L184,660" class="k th"/>
<path d="M123.1,739.5 L115.2,670.2 Q115.5,664.5 117.3,663 Q119.5,660.4 122.4,660.4 L128.9,660.8 Q133,662 134.7,665.9 Q137,670 137.8,676 L143.3,745.3" class="k"/>
<path d="M126,736.6 L118.8,671.7 Q119,668 120.2,666.6 Q121.5,664.4 123.8,664.4 Q127,664.6 128.9,666.6 Q131.5,669.5 132.5,674.5 L138.3,742.4" class="k"/>
<path d="M123.1,739.5 Q123.5,742.5 126,743 L131,743.1 Q134,742.5 134.7,738.1 L134.5,736" class="k"/>
<path d="M143.3,745.3 Q143,749.5 141.9,749.6" class="k"/>
<path d="M138.3,742.4 Q139,751 143.3,751.8 L163.5,742.4" class="k"/>
<path d="M147.7,746.8 L163.5,738.1" class="k"/>
<line x1="144.8" y1="730.9" x2="150.5" y2="728.0" class="k th"/>
<line x1="145.0" y1="734.0" x2="151.0" y2="731.0" class="k th"/>
<line x1="116.5" y1="677.0" x2="120.5" y2="676.5" class="k th"/>
<line x1="133.5" y1="722.0" x2="137.5" y2="721.5" class="k th"/>
<line x1="124.0" y1="737.0" x2="126.5" y2="736.8" class="k th"/>
<line x1="136.0" y1="738.0" x2="140.0" y2="737.5" class="k th"/>
<path d="M144.8,720.8 L167.2,733 L167.2,748.2 L164.3,749.6 L164.3,735.2" class="k th"/>
<path d="M144.8,720.8 L144.8,730" class="k th"/>
<path d="M146,723 L164.3,733.2 L167.2,733" class="k th"/>
<ellipse cx="147.5" cy="724.0" rx="1.3" ry="1.6" class="k th"/>
<ellipse cx="165.6" cy="745.5" rx="1.1" ry="1.5" class="k th"/>
<ellipse cx="166.4" cy="707.0" rx="5.4" ry="6.5" class="g" transform="rotate(-25 166.4 707.0)"/>
<ellipse cx="166.8" cy="707.3" rx="1.8" ry="2.4" class="g" transform="rotate(-25 166.8 707.3)"/>
<polygon points="179.6,690.9 182.3,686.5 189.1,686.0 193.0,690.7 193.0,696.1 190.2,700.3 183.3,700.6 179.6,695.7" class="g"/>
<ellipse cx="187.7" cy="693.7" rx="5.0" ry="6.4" class="g" transform="rotate(-15 187.7 693.7)"/>
<ellipse cx="187.9" cy="693.8" rx="2.4" ry="2.9" class="g"/>
<line x1="182.1" y1="690.5" x2="182.3" y2="697.0" class="gl"/>
<ellipse cx="182.3" cy="708.5" rx="5.4" ry="6.5" class="g" transform="rotate(-25 182.3 708.5)"/>
<ellipse cx="182.6" cy="708.8" rx="1.8" ry="2.4" class="g" transform="rotate(-25 182.6 708.8)"/>
<polygon points="196.9,691.9 199.4,687.9 205.4,687.5 208.9,691.7 208.9,696.5 206.4,700.2 200.2,700.5 196.9,696.1" class="g"/>
<ellipse cx="204.1" cy="694.3" rx="4.4" ry="5.7" class="g" transform="rotate(-15 204.1 694.3)"/>
<ellipse cx="204.3" cy="694.4" rx="2.1" ry="2.6" class="g"/>
<line x1="199.1" y1="691.5" x2="199.4" y2="697.3" class="gl"/>
<ellipse cx="204.3" cy="694.4" rx="1.8" ry="2.3" class="f"/>
<ellipse cx="97.1" cy="742.5" rx="4.6" ry="5.8" class="g" transform="rotate(-25 97.1 742.5)"/>
<ellipse cx="97.4" cy="742.8" rx="1.6" ry="2.2" class="g"/>
<ellipse cx="95.0" cy="763.6" rx="4.8" ry="6.0" class="g" transform="rotate(-25 95.0 763.6)"/>
<ellipse cx="95.3" cy="763.9" rx="1.6" ry="2.3" class="g"/>
<ellipse cx="124.7" cy="760.9" rx="4.8" ry="6.0" class="g" transform="rotate(-25 124.7 760.9)"/>
<ellipse cx="125.0" cy="761.2" rx="1.6" ry="2.3" class="g"/>
<ellipse cx="122.6" cy="780.9" rx="4.8" ry="6.0" class="g" transform="rotate(-25 122.6 780.9)"/>
<ellipse cx="122.9" cy="781.2" rx="1.6" ry="2.3" class="g"/>
<polygon points="67.8,764.1 85.4,754.6 82.8,749.8 65.2,759.3" class="g"/>
<line x1="70.8" y1="762.5" x2="70.0" y2="756.8" class="gl"/>
<line x1="73.5" y1="761.0" x2="72.7" y2="755.3" class="gl"/>
<line x1="76.3" y1="759.5" x2="75.5" y2="753.8" class="gl"/>
<line x1="79.0" y1="758.0" x2="78.2" y2="752.3" class="gl"/>
<line x1="81.8" y1="756.5" x2="81.0" y2="750.8" class="gl"/>
<polygon points="58.1,760.7 60.8,758.5 65.5,758.0 68.0,765.0 65.1,768.8 61.7,769.3 57.9,765.0" style="fill:#fafcf9;stroke:#111;stroke-width:1.05;stroke-linejoin:round"/>
<line x1="63.6" y1="760.3" x2="65.6" y2="765.0" class="g"/>
<line x1="65.6" y1="765.0" x2="65.1" y2="768.8" class="g"/>
<polygon points="66.2,784.6 83.3,775.2 80.7,770.4 63.6,779.9" class="g"/>
<line x1="69.0" y1="783.1" x2="68.2" y2="777.4" class="gl"/>
<line x1="71.7" y1="781.6" x2="70.9" y2="775.9" class="gl"/>
<line x1="74.4" y1="780.1" x2="73.5" y2="774.4" class="gl"/>
<line x1="77.1" y1="778.6" x2="76.2" y2="772.9" class="gl"/>
<line x1="79.8" y1="777.1" x2="78.9" y2="771.4" class="gl"/>
<polygon points="56.5,781.3 59.2,779.1 63.9,778.6 66.4,785.6 63.5,789.4 60.1,789.9 56.3,785.6" style="fill:#fafcf9;stroke:#111;stroke-width:1.05;stroke-linejoin:round"/>
<line x1="62.0" y1="780.9" x2="64.0" y2="785.6" class="g"/>
<line x1="64.0" y1="785.6" x2="63.5" y2="789.4" class="g"/>
<polygon points="95.4,781.2 112.6,771.3 109.8,766.7 92.7,776.6" class="g"/>
<line x1="98.3" y1="779.6" x2="97.3" y2="773.9" class="gl"/>
<line x1="101.0" y1="778.0" x2="100.0" y2="772.3" class="gl"/>
<line x1="103.7" y1="776.5" x2="102.7" y2="770.8" class="gl"/>
<line x1="106.3" y1="774.9" x2="105.4" y2="769.3" class="gl"/>
<line x1="109.0" y1="773.4" x2="108.0" y2="767.7" class="gl"/>
<polygon points="85.7,778.0 88.4,775.8 93.1,775.3 95.6,782.3 92.7,786.1 89.3,786.6 85.5,782.3" style="fill:#fafcf9;stroke:#111;stroke-width:1.05;stroke-linejoin:round"/>
<line x1="91.2" y1="777.6" x2="93.2" y2="782.3" class="g"/>
<line x1="93.2" y1="782.3" x2="92.7" y2="786.1" class="g"/>
<polygon points="93.8,801.8 110.4,791.9 107.6,787.3 91.1,797.1" class="g"/>
<line x1="96.5" y1="800.2" x2="95.5" y2="794.5" class="gl"/>
<line x1="99.1" y1="798.6" x2="98.1" y2="793.0" class="gl"/>
<line x1="101.7" y1="797.1" x2="100.7" y2="791.4" class="gl"/>
<line x1="104.3" y1="795.5" x2="103.3" y2="789.9" class="gl"/>
<line x1="106.9" y1="794.0" x2="105.9" y2="788.3" class="gl"/>
<polygon points="84.1,798.6 86.8,796.4 91.5,795.9 94.0,802.9 91.1,806.7 87.7,807.2 83.9,802.9" style="fill:#fafcf9;stroke:#111;stroke-width:1.05;stroke-linejoin:round"/>
<line x1="89.6" y1="798.2" x2="91.6" y2="802.9" class="g"/>
<line x1="91.6" y1="802.9" x2="91.1" y2="806.7" class="g"/>
<ellipse cx="239.5" cy="435.0" rx="6.2" ry="7.0" class="g" transform="rotate(-25 239.5 435.0)"/>
<ellipse cx="240.0" cy="435.4" rx="2.6" ry="3.2" class="g" transform="rotate(-25 240.0 435.4)"/>
<polygon points="197.8,459.2 223.8,444.9 221.2,440.1 195.2,454.5" class="g"/>
<line x1="203.8" y1="455.9" x2="202.9" y2="450.2" class="gl"/>
<line x1="207.6" y1="453.8" x2="206.7" y2="448.1" class="gl"/>
<line x1="211.4" y1="451.7" x2="210.6" y2="446.0" class="gl"/>
<line x1="215.3" y1="449.6" x2="214.4" y2="443.9" class="gl"/>
<line x1="219.1" y1="447.5" x2="218.2" y2="441.8" class="gl"/>
<polygon points="186.6,455.0 190.1,452.2 196.2,451.5 199.5,460.6 195.7,465.6 191.3,466.2 186.4,460.6" style="fill:#fafcf9;stroke:#111;stroke-width:1.05;stroke-linejoin:round"/>
<line x1="193.8" y1="454.5" x2="196.4" y2="460.6" class="g"/>
<line x1="196.4" y1="460.6" x2="195.7" y2="465.6" class="g"/>
<ellipse cx="273.0" cy="491.0" rx="7.3" ry="5.4" class="g"/>
<ellipse cx="273.4" cy="490.6" rx="3.6" ry="2.3" class="g"/>
<path d="M267.5,493 Q273,496 279,492" class="g"/>
<polygon points="267.3,514.0 270.5,509.8 277.5,509.8 280.7,514.0 280.7,517.5 277.5,521.5 270.5,521.5 267.3,517.5" class="g"/>
<ellipse cx="274.0" cy="513.6" rx="4.4" ry="2.7" class="g"/>
<line x1="267.3" y1="514.0" x2="280.7" y2="514.0" class="gl"/>
<line x1="270.5" y1="517.8" x2="277.5" y2="517.8" class="g"/>
<line x1="355.8" y1="110.0" x2="355.8" y2="413.0" class="d2"/>
<polyline points="370.3,238.2 327.9,261.7 327.9,386.2 322.5,388.4" class="d"/>
<polyline points="488.9,293.8 457.6,311.3 455.9,312.3" class="t2"/>
<line x1="455.9" y1="312.3" x2="455.9" y2="453.0" class="d2"/>
<line x1="496.4" y1="299.0" x2="496.4" y2="431.0" class="t2"/>
<polyline points="559.2,357.0 545.5,349.4 545.5,418.0" class="d"/>
<line x1="545.5" y1="418.0" x2="545.5" y2="489.0" class="t2"/>
<line x1="545.5" y1="489.0" x2="545.5" y2="547.0" class="d"/>
<line x1="545.5" y1="571.0" x2="545.5" y2="582.0" class="d"/>
<line x1="545.5" y1="606.0" x2="545.5" y2="630.0" class="d"/>
<polyline points="567.6,362.0 608.9,383.5" class="d"/>
<line x1="608.6" y1="362.3" x2="608.6" y2="381.4" class="t"/>
<line x1="98.0" y1="742.6" x2="420.0" y2="526.3" class="d"/>
<line x1="145.0" y1="721.1" x2="428.0" y2="530.9" class="d"/>
<line x1="158.0" y1="723.8" x2="444.0" y2="531.6" class="d"/>
<line x1="168.0" y1="729.6" x2="454.0" y2="537.4" class="d"/>
<line x1="372.4" y1="504.0" x2="316.8" y2="531.8" class="d"/>
<line x1="462.0" y1="509.4" x2="664.0" y2="624.6" class="d"/>
<line x1="453.8" y1="514.4" x2="660.0" y2="631.9" class="d"/>
<polyline points="295.4,455.8 273.3,464.1 273.3,486.0" class="d"/>
<line x1="244.0" y1="433.5" x2="256.0" y2="426.5" class="d"/>
<line x1="281.4" y1="66.2" x2="354.5" y2="66.2" class="t"/>
<line x1="612.4" y1="137.0" x2="681.7" y2="137.0" class="t"/>
<line x1="342.0" y1="174.7" x2="405.6" y2="211.7" class="t"/>
<line x1="345.2" y1="223.2" x2="376.3" y2="231.6" class="t"/>
<line x1="424.4" y1="212.6" x2="424.4" y2="242.0" class="t"/>
<line x1="491.8" y1="259.1" x2="525.5" y2="239.8" class="t"/>
<line x1="517.8" y1="275.5" x2="551.5" y2="257.2" class="t"/>
<line x1="545.7" y1="291.8" x2="644.3" y2="237.0" class="t"/>
<line x1="581.7" y1="295.3" x2="675.5" y2="256.3" class="t"/>
<line x1="627.0" y1="309.2" x2="681.3" y2="309.2" class="t"/>
<line x1="675.5" y1="350.2" x2="749.2" y2="350.2" class="t"/>
<line x1="620.8" y1="351.2" x2="620.8" y2="381.4" class="t"/>
<line x1="607.0" y1="445.3" x2="683.7" y2="445.3" class="t"/>
<line x1="200.0" y1="411.5" x2="237.3" y2="433.1" class="t"/>
<line x1="152.9" y1="436.4" x2="190.3" y2="457.2" class="t"/>
<line x1="278.8" y1="493.2" x2="298.2" y2="497.3" class="t"/>
<line x1="206.9" y1="513.4" x2="265.0" y2="513.4" class="t"/>
<line x1="362.1" y1="562.2" x2="491.3" y2="562.2" class="t"/>
<line x1="559.4" y1="564.5" x2="678.6" y2="564.5" class="t"/>
<line x1="559.4" y1="599.4" x2="678.6" y2="564.5" class="t"/>
<line x1="742.0" y1="590.5" x2="694.3" y2="608.7" class="t"/>
<line x1="366.8" y1="613.9" x2="451.5" y2="613.9" class="t"/>
<line x1="76.9" y1="626.4" x2="125.7" y2="626.4" class="t"/>
<line x1="438.3" y1="633.7" x2="480.5" y2="612.5" class="t"/>
<line x1="438.3" y1="631.5" x2="484.5" y2="610.0" class="t"/>
<line x1="439.0" y1="662.6" x2="491.3" y2="641.0" class="t"/>
<line x1="80.1" y1="668.8" x2="116.0" y2="668.8" class="t"/>
<line x1="73.8" y1="719.8" x2="94.1" y2="738.6" class="t"/>
<line x1="708.7" y1="649.7" x2="708.7" y2="697.4" class="t"/>
<line x1="752.1" y1="670.0" x2="760.7" y2="691.6" class="t"/>
<line x1="230.3" y1="722.9" x2="203.7" y2="696.3" class="t"/>
<line x1="217.7" y1="748.0" x2="183.3" y2="708.8" class="t"/>
<line x1="102.5" y1="797.1" x2="102.5" y2="843.4" class="t"/>
<line x1="643.3" y1="797.5" x2="666.4" y2="844.1" class="t"/>
<line x1="562.7" y1="838.0" x2="666.4" y2="844.1" class="t"/>
<g style="will-change:transform">
<text x="246.36" y="74.7" style="text-anchor:start">2</text>
<text x="259.15" y="74.7" style="text-anchor:start">3</text>
<polygon points="693.60,145.80 695.48,145.80 695.48,129.24 694.06,129.24 689.46,133.73 689.46,135.34 693.60,131.89" fill="#000"/>
<text x="308.36" y="171.2" style="text-anchor:start">2</text>
<polygon points="327.59,171.20 329.48,171.20 329.48,154.64 328.05,154.64 323.45,159.12 323.45,160.73 327.59,157.28" fill="#000"/>
<text x="312.51" y="229.5" style="text-anchor:start">2</text>
<text x="325.30" y="229.5" style="text-anchor:start">0</text>
<text x="411.36" y="268.0" style="text-anchor:start">2</text>
<text x="424.15" y="268.0" style="text-anchor:start">2</text>
<text x="534.76" y="237.9" style="text-anchor:start">2</text>
<text x="559.76" y="256.2" style="text-anchor:start">3</text>
<text x="652.81" y="235.2" style="text-anchor:start">4</text>
<text x="684.56" y="256.3" style="text-anchor:start">5</text>
<text x="689.91" y="317.0" style="text-anchor:start">6</text>
<text x="758.81" y="358.8" style="text-anchor:start">7</text>
<text x="613.96" y="408.0" style="text-anchor:start">8</text>
<text x="692.21" y="453.5" style="text-anchor:start">9</text>
<text x="165.96" y="407.4" style="text-anchor:start">2</text>
<text x="178.75" y="407.4" style="text-anchor:start">0</text>
<polygon points="125.80,430.90 127.69,430.90 127.69,414.34 126.26,414.34 121.66,418.82 121.66,420.44 125.80,416.98" fill="#000"/>
<text x="132.15" y="430.9" style="text-anchor:start">9</text>
<polygon points="311.90,511.20 313.79,511.20 313.79,494.64 312.36,494.64 307.76,499.12 307.76,500.74 311.90,497.28" fill="#000"/>
<text x="318.25" y="511.2" style="text-anchor:start">8</text>
<polygon points="179.75,520.80 181.64,520.80 181.64,504.24 180.21,504.24 175.61,508.72 175.61,510.33 179.75,506.88" fill="#000"/>
<text x="186.10" y="520.8" style="text-anchor:start">7</text>
<polygon points="336.10,570.50 337.99,570.50 337.99,553.94 336.56,553.94 331.96,558.42 331.96,560.03 336.10,556.59" fill="#000"/>
<text x="342.45" y="570.5" style="text-anchor:start">5</text>
<polygon points="692.30,572.30 694.19,572.30 694.19,555.74 692.76,555.74 688.16,560.22 688.16,561.83 692.30,558.38" fill="#000"/>
<text x="698.65" y="572.3" style="text-anchor:start">0</text>
<text x="750.11" y="593.4" style="text-anchor:start">2</text>
<text x="762.90" y="593.4" style="text-anchor:start">4</text>
<polygon points="339.70,622.90 341.59,622.90 341.59,606.34 340.16,606.34 335.56,610.82 335.56,612.43 339.70,608.99" fill="#000"/>
<text x="346.05" y="622.9" style="text-anchor:start">4</text>
<polygon points="50.20,634.70 52.09,634.70 52.09,618.14 50.66,618.14 46.06,622.62 46.06,624.24 50.20,620.79" fill="#000"/>
<text x="56.55" y="634.7" style="text-anchor:start">6</text>
<polygon points="412.80,650.00 414.69,650.00 414.69,633.44 413.26,633.44 408.66,637.92 408.66,639.53 412.80,636.09" fill="#000"/>
<text x="419.15" y="650.0" style="text-anchor:start">3</text>
<polygon points="412.80,679.60 414.69,679.60 414.69,663.04 413.26,663.04 408.66,667.52 408.66,669.13 412.80,665.69" fill="#000"/>
<text x="419.15" y="679.6" style="text-anchor:start">2</text>
<text x="46.16" y="675.0" style="text-anchor:start">2</text>
<text x="58.95" y="675.0" style="text-anchor:start">9</text>
<text x="47.71" y="719.8" style="text-anchor:start">3</text>
<text x="60.50" y="719.8" style="text-anchor:start">0</text>
<text x="701.41" y="722.0" style="text-anchor:start">2</text>
<text x="714.20" y="722.0" style="text-anchor:start">5</text>
<text x="751.96" y="722.0" style="text-anchor:start">2</text>
<text x="764.75" y="722.0" style="text-anchor:start">6</text>
<text x="235.91" y="738.6" style="text-anchor:start">2</text>
<text x="248.70" y="738.6" style="text-anchor:start">7</text>
<text x="214.01" y="768.9" style="text-anchor:start">2</text>
<text x="226.80" y="768.9" style="text-anchor:start">8</text>
<text x="85.26" y="862.2" style="text-anchor:start">3</text>
<polygon points="104.49,862.20 106.38,862.20 106.38,845.64 104.95,845.64 100.35,850.12 100.35,851.74 104.49,848.29" fill="#000"/>
<polygon points="668.25,870.70 670.14,870.70 670.14,854.14 668.71,854.14 664.11,858.62 664.11,860.24 668.25,856.79" fill="#000"/>
<polygon points="681.04,870.70 682.93,870.70 682.93,854.14 681.50,854.14 676.90,858.62 676.90,860.24 681.04,856.79" fill="#000"/>
</g>
</svg></body></html>
